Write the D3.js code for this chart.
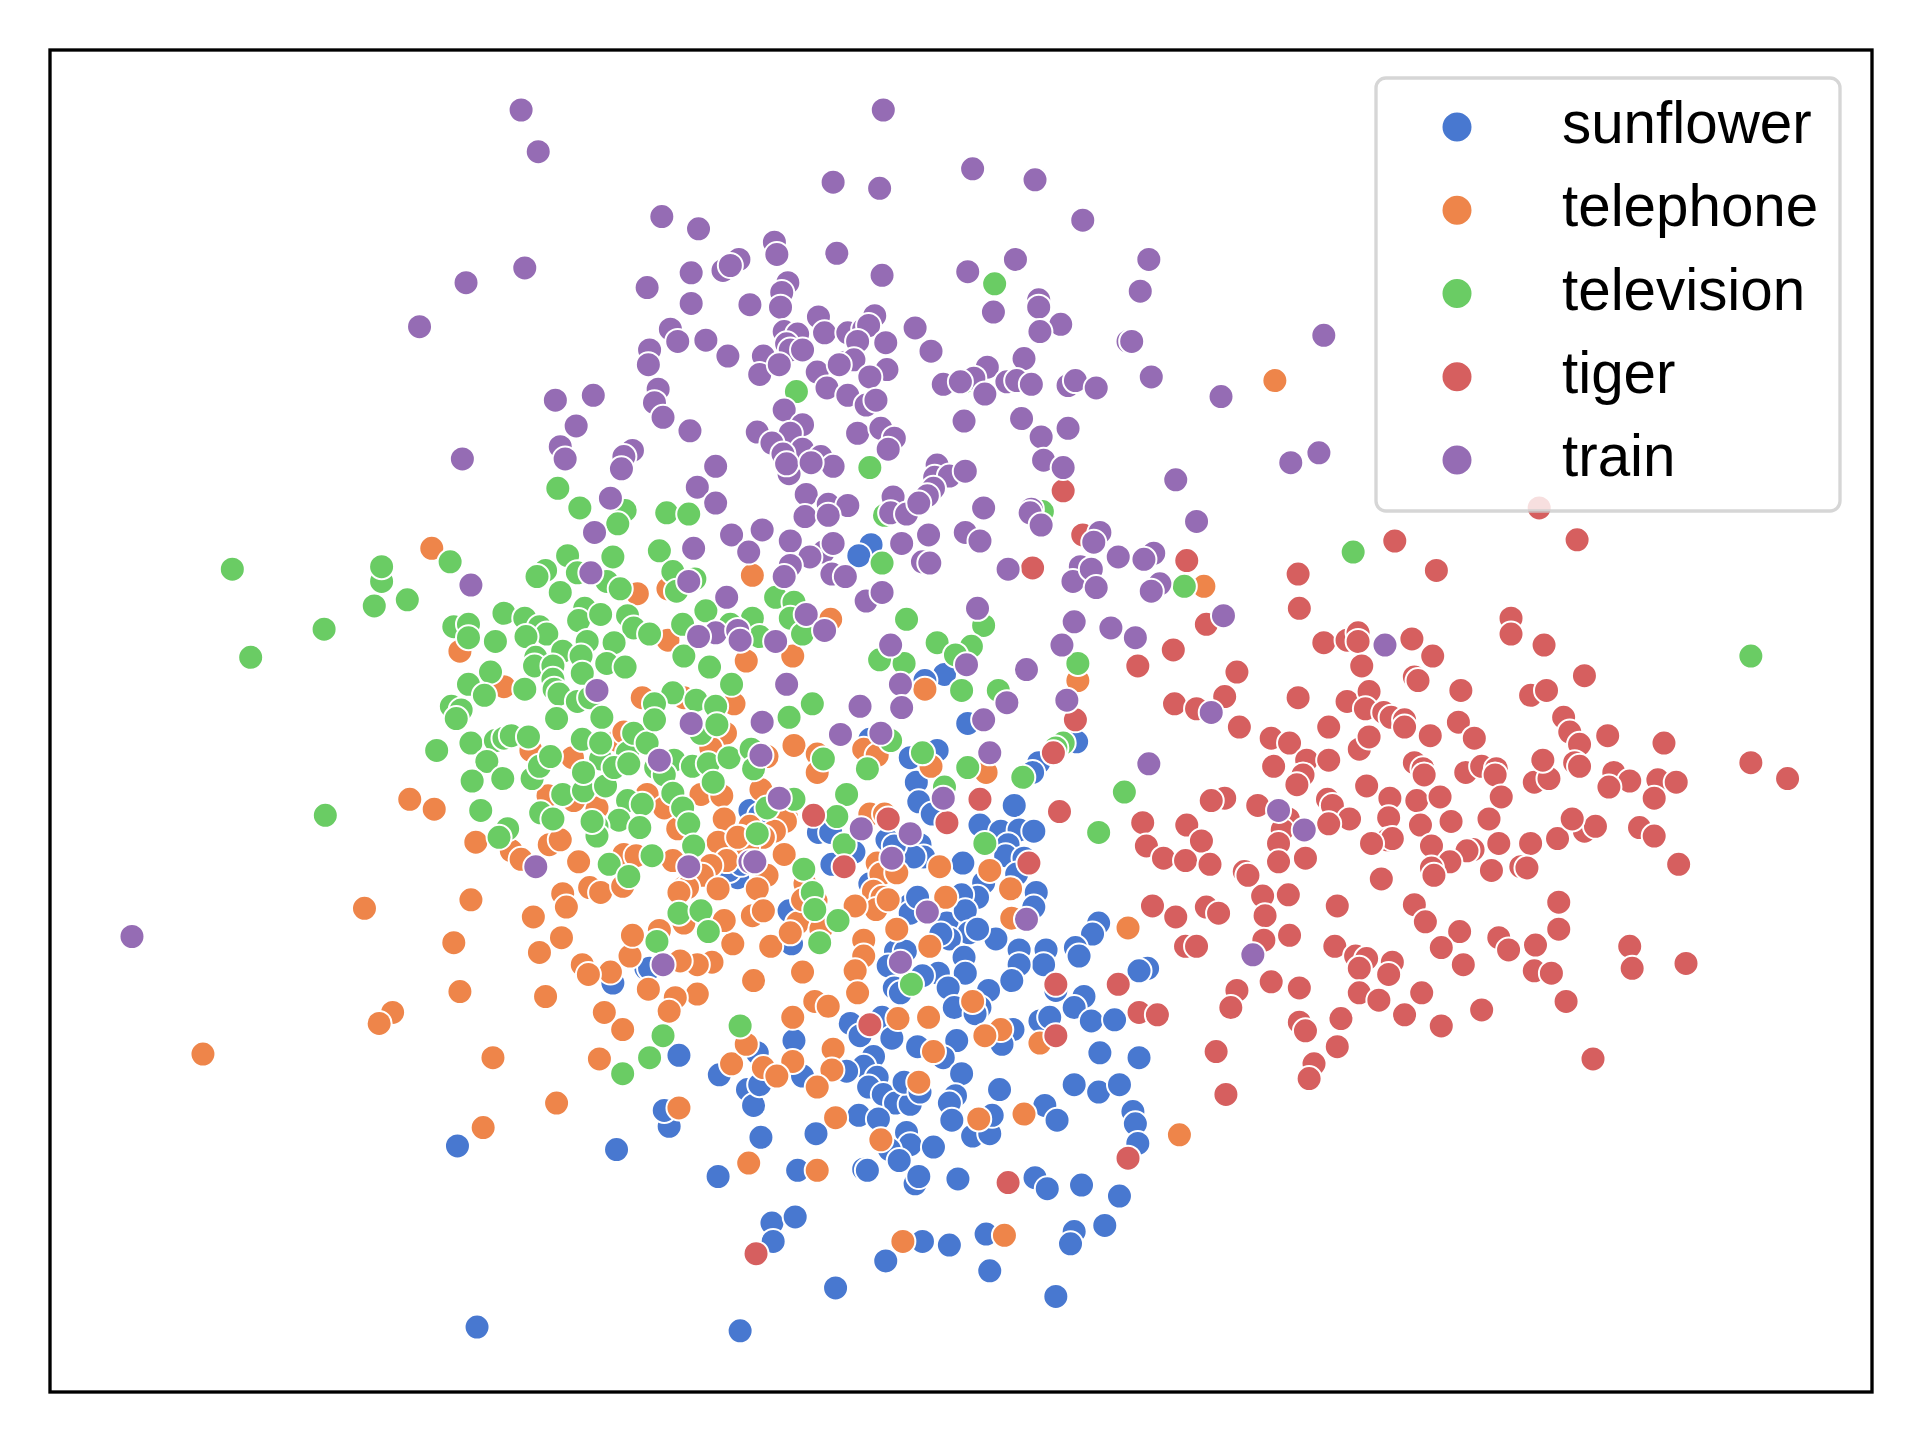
<!DOCTYPE html>
<html>
<head>
<meta charset="utf-8">
<script src="https://cdn.jsdelivr.net/npm/d3@7"></script>
<style>
  html, body { margin: 0; padding: 0; background: #fff; }
  svg { display: block; }
</style>
</head>
<body>
<div id="chart"></div>
<script>
const categories = ['sunflower', 'telephone', 'television', 'tiger', 'train'];

const sunflower = [[711,444],[701,453],[771,550],[755,555],[790,590],[879,605],[765,612],[743,618],[710,603],[848,622],[843,630],[748,638],[612,661],[620,665],[670,676],[668,679],[678,679],[750,654],[761,664],[724,685],[751,689],[754,699],[746,699],[730,690],[697,695],[679,705],[710,721],[743,738],[773,753],[644,743],[646,770],[602,716],[828,657],[800,673],[817,678],[832,677],[844,678],[823,689],[821,698],[836,700],[830,713],[803,720],[798,732],[785,730],[788,743],[786,704],[846,728],[844,740],[897,753],[892,762],[878,773],[881,780],[854,775],[852,787],[832,775],[832,787],[826,800],[813,766],[791,761],[798,758],[775,766],[768,762],[787,781],[788,794],[766,794],[774,806],[743,745],[749,732],[731,776],[739,776],[725,788],[730,806],[735,810],[753,796],[807,808],[779,822],[800,822],[796,827],[827,840],[818,852],[781,849],[770,863],[749,854],[785,876],[780,894],[775,900],[777,914],[794,927],[808,925],[810,910],[816,889],[877,885],[897,891],[914,885],[853,902],[863,914],[885,813],[877,822],[891,833],[910,832],[849,833],[857,830],[898,859],[930,863],[862,808],[937,790],[930,792],[925,907],[927,917],[929,933],[694,835],[720,830],[702,845],[728,847],[713,862],[705,870],[716,879],[709,887],[721,893],[731,900],[743,901],[738,883],[751,891],[701,910],[717,913],[740,924],[743,934],[726,938],[734,947],[762,936],[666,925],[621,928],[648,849],[691,874],[655,878],[610,889],[615,902],[587,877],[618,859],[620,885],[554,861],[651,955],[586,960],[503,938],[546,919],[542,906],[705,954],[708,955],[747,966],[750,960],[782,962],[845,961],[855,970],[883,967],[527,790],[500,802],[373,935],[914,976],[902,1000],[630,998],[649,993],[631,1013],[753,1013],[723,1029],[775,1016],[805,1007],[877,1005],[874,1015],[808,1037],[682,1051],[862,1058],[389,1083],[604,1086],[595,710],[605,705],[530,790]];

const telephone = [[1041,310],[352,447],[614,469],[983,478],[520,484],[545,480],[375,531],[411,560],[545,522],[609,539],[647,535],[678,505],[524,569],[558,569],[599,574],[592,598],[648,608],[667,615],[667,630],[705,611],[716,616],[626,617],[580,610],[334,652],[354,660],[388,687],[417,694],[425,701],[448,689],[457,685],[467,618],[433,612],[504,604],[509,597],[487,659],[447,649],[468,653],[528,648],[542,659],[572,648],[589,649],[591,668],[612,674],[604,683],[586,687],[621,644],[642,667],[641,670],[632,678],[623,683],[610,691],[602,683],[553,676],[640,697],[593,702],[580,706],[549,702],[573,714],[586,725],[558,724],[561,724],[554,728],[626,714],[618,725],[710,664],[722,664],[716,704],[719,713],[713,727],[732,712],[720,732],[715,742],[725,734],[657,721],[472,703],[459,729],[481,724],[490,728],[509,697],[519,698],[508,723],[384,734],[767,707],[808,710],[825,725],[772,732],[826,749],[732,758],[759,772],[705,767],[705,780],[698,792],[700,810],[655,793],[615,800],[629,772],[598,770],[581,785],[569,787],[555,784],[569,811],[551,814],[546,825],[529,807],[508,840],[493,826],[498,793],[514,780],[516,763],[538,759],[558,753],[591,751],[614,747],[623,743],[651,753],[645,761],[670,758],[666,735],[655,734],[698,739],[794,817],[817,840],[804,845],[758,830],[733,831],[665,817],[676,821],[647,830],[680,856],[679,873],[667,887],[647,866],[623,871],[634,878],[597,868],[609,852],[554,904],[682,912],[719,930],[750,883],[762,858],[799,913],[836,909],[849,851],[667,955],[611,949],[297,741],[370,769],[458,765],[440,777],[435,748],[462,740],[475,787],[480,795],[445,813],[375,809],[320,826],[309,835],[165,860],[402,863],[489,864],[454,900],[394,920],[963,926],[921,757],[737,1013],[820,1008],[760,625],[805,630],[880,555],[755,562]];

const television = [[812,231],[650,319],[787,311],[710,381],[455,398],[473,414],[510,416],[504,427],[544,418],[562,419],[367,458],[463,453],[500,454],[538,449],[549,466],[567,472],[552,482],[445,465],[438,470],[471,467],[495,474],[506,480],[457,483],[576,498],[557,509],[558,535],[579,544],[597,558],[411,500],[428,504],[440,511],[446,517],[370,511],[382,509],[382,520],[404,523],[429,519],[477,496],[472,506],[490,501],[512,502],[517,512],[530,517],[479,523],[501,524],[437,536],[436,543],[459,531],[474,535],[475,549],[495,541],[510,544],[451,543],[451,554],[452,562],[456,566],[471,572],[481,569],[491,585],[454,586],[400,548],[382,558],[395,567],[428,562],[368,576],[376,579],[372,586],[356,612],[332,489],[384,606],[404,604],[411,602],[417,600],[431,601],[397,621],[385,637],[410,635],[434,635],[440,625],[449,617],[392,661],[414,676],[407,683],[441,663],[451,668],[459,648],[476,645],[494,641],[475,603],[490,619],[512,614],[517,598],[528,606],[490,606],[476,630],[501,626],[513,623],[512,653],[524,656],[505,669],[487,674],[487,682],[522,675],[483,670],[550,620],[535,626],[542,632],[565,625],[578,623],[595,618],[613,611],[615,627],[582,638],[549,647],[557,659],[562,672],[566,690],[532,698],[497,705],[513,715],[549,565],[534,574],[568,571],[584,576],[534,587],[572,598],[585,591],[663,574],[644,585],[672,619],[626,659],[648,652],[618,680],[656,709],[663,728],[691,648],[683,666],[689,689],[708,627],[727,604],[720,459],[718,538],[633,487],[648,491],[645,504],[655,517],[614,504],[620,519],[596,509],[669,769],[684,751],[804,688],[897,679],[918,646],[554,745],[572,743],[536,768],[578,760],[744,803],[604,837],[541,845],[530,863],[508,876],[665,742],[722,420],[851,417],[967,478],[1105,450],[1430,535],[189,464],[204,536],[264,513],[305,494],[311,474],[311,462],[265,665],[740,505],[803,510],[765,524],[738,541],[793,527],[780,534],[785,563],[815,563],[880,541],[868,606],[862,610],[753,614],[790,626],[835,634],[771,642]];

const tiger = [[1257,414],[868,400],[1288,440],[884,436],[1139,441],[969,457],[843,463],[1173,465],[1060,468],[1061,496],[985,509],[1234,504],[1234,517],[1261,526],[958,530],[929,543],[1010,548],[1081,524],[1100,522],[1109,516],[1109,523],[1153,521],[1170,535],[1112,543],[1155,552],[1158,555],[1294,551],[1193,563],[1250,567],[1263,563],[1100,572],[1060,569],[1000,568],[959,574],[977,578],[1012,593],[1118,564],[1115,578],[1130,581],[1136,585],[1147,587],[1147,593],[1085,593],[1191,589],[1204,602],[1277,585],[1282,597],[1290,607],[1313,600],[1359,606],[1038,602],[1053,606],[1110,611],[1118,601],[1067,620],[1085,620],[1064,632],[1116,641],[1155,622],[1162,627],[1163,632],[1197,630],[1210,625],[1222,627],[1221,632],[1253,638],[1265,635],[1286,622],[1290,625],[1318,630],[1331,637],[1354,636],[1369,638],[1351,651],[1314,642],[1430,622],[1460,635],[1135,651],[1157,653],[1176,650],[1226,650],[1084,652],[1088,657],[1000,651],[989,653],[1027,657],[1059,640],[1052,668],[1102,668],[1134,667],[1160,673],[1185,670],[1216,668],[1133,685],[1137,684],[1169,690],[1120,688],[1047,677],[1044,688],[1085,672],[1203,693],[1198,694],[1224,688],[1250,688],[1272,684],[1294,678],[1303,674],[1284,668],[1339,675],[1351,682],[1371,705],[933,671],[969,673],[981,686],[936,690],[950,700],[968,702],[988,705],[1016,711],[1019,714],[1066,700],[1044,703],[1184,703],[1218,710],[1242,707],[1247,708],[1128,717],[1169,708],[1171,714],[1052,730],[1031,731],[1033,747],[941,739],[960,748],[985,740],[995,745],[1092,739],[1155,738],[1164,752],[1192,760],[1273,736],[1273,758],[1053,763],[1032,767],[968,772],[977,772],[1090,772],[1177,773],[1224,765],[1232,775],[1254,771],[1331,772],[1333,790],[1377,786],[1107,780],[1116,782],[1137,785],[1110,790],[1134,795],[1195,787],[1253,792],[1267,794],[1038,801],[1061,806],[1010,808],[1005,822],[1110,810],[1126,816],[1161,810],[1147,828],[1177,837],[1210,824],[1279,817],[1095,831],[1061,834],[1066,841],[1092,854],[993,858],[1073,868],[1069,880],[1001,893],[1301,864],[913,803],[862,803],[930,826],[945,828],[862,845],[710,836],[921,945],[823,965],[617,1023],[664,665],[725,668],[773,671],[800,652],[865,662],[860,614],[878,587],[689,707],[840,704],[1168,600],[1040,625],[1260,620]];

const train = [[425,89],[721,89],[439,123],[794,137],[680,148],[845,146],[718,153],[540,176],[570,186],[884,179],[632,197],[603,211],[683,206],[634,207],[938,211],[829,211],[428,218],[380,230],[564,222],[590,220],[596,216],[720,224],[790,221],[528,234],[643,230],[638,238],[931,237],[848,244],[564,247],[612,248],[637,250],[811,254],[848,250],[342,266],[668,258],[714,257],[866,264],[849,270],[747,267],[547,268],[553,278],[576,277],[640,270],[651,272],[673,271],[692,271],[705,268],[709,265],[700,278],[723,279],[642,280],[645,285],[760,286],[530,285],[529,297],[594,290],[623,290],[655,285],[690,295],[697,293],[724,301],[921,278],[924,278],[1081,273],[836,292],[620,305],[636,297],[667,303],[685,297],[710,307],[940,307],[806,299],[795,308],[770,313],[784,311],[822,311],[830,310],[842,313],[872,314],[878,310],[895,316],[675,316],[692,322],[707,330],[715,326],[804,321],[537,317],[534,328],[453,326],[484,322],[541,340],[997,323],[640,334],[655,346],[645,353],[618,352],[563,351],[470,347],[700,353],[719,349],[730,357],[787,343],[834,341],[850,356],[872,349],[630,361],[655,366],[639,370],[457,364],[461,374],[516,367],[509,372],[507,382],[377,374],[725,366],[670,372],[680,380],[644,386],[642,378],[662,377],[584,380],[569,397],[765,379],[763,389],[775,388],[788,384],[852,375],[868,381],[960,391],[1054,377],[1077,369],[658,403],[729,405],[727,418],[498,406],[584,410],[676,411],[692,412],[657,421],[676,420],[740,419],[762,398],[757,404],[750,410],[803,414],[842,415],[841,418],[850,428],[977,425],[597,436],[622,432],[645,441],[485,434],[566,447],[611,450],[672,450],[680,443],[736,443],[758,436],[788,434],[800,441],[898,434],[893,442],[913,454],[942,451],[934,456],[661,454],[645,461],[640,470],[679,468],[690,470],[753,458],[759,459],[823,464],[882,462],[876,474],[891,464],[895,479],[947,476],[940,482],[384,477],[482,467],[562,474],[593,487],[707,490],[720,483],[798,496],[658,501],[999,502],[877,507],[907,512],[927,520],[584,516],[570,519],[602,514],[604,522],[633,523],[673,514],[727,526],[867,526],[1131,526],[789,542],[838,546],[642,558],[735,558],[487,563],[736,577],[822,573],[871,571],[702,576],[622,589],[564,590],[719,598],[686,599],[989,581],[803,587],[808,614],[621,616],[538,620],[938,623],[770,651],[636,651],[1044,661],[1065,677],[703,676],[743,680],[728,700],[612,703],[616,703],[562,707],[437,707],[838,750],[757,744],[735,785],[541,787],[107,764],[1023,779]];

const seriesValues = [sunflower, telephone, television, tiger, train];
const palette = ['#4878d0', '#ee854a', '#6acc64', '#d65f5f', '#956cb4'];

const width = 1920;
const height = 1440;
const margin = { top: 50, right: 48, bottom: 48, left: 50 };

const svg = d3.select('#chart')
    .append('svg')
    .attr('width', width)
    .attr('height', height)
    .attr('viewBox', `0 0 ${width} ${height}`)
    .style('font-family', '"Liberation Sans", Arial, sans-serif');

// Values are embedding coordinates, there are no ticks
const x = d3.scaleLinear()
    .domain([40, 1529])
    .range([margin.left, width - margin.right]);

const y = d3.scaleLinear()
    .domain([40, 1136])
    .range([margin.top, height - margin.bottom]);

const color = d3.scaleOrdinal().domain(categories).range(palette);

const points = svg.append('g');
categories.forEach((name, i) => {
    points.selectAll(`.dot-${name}`)
        .data(seriesValues[i])
        .enter()
        .append('circle')
        .attr('class', `dot-${name}`)
        .attr('cx', d => x(d[0]))
        .attr('cy', d => y(d[1]))
        .attr('r', 12.5)
        .attr('fill', color(name))
        .attr('stroke', '#fff')
        .attr('stroke-width', 2);
});

// Frame
svg.append('rect')
    .attr('x', margin.left)
    .attr('y', margin.top)
    .attr('width', width - margin.left - margin.right)
    .attr('height', height - margin.top - margin.bottom)
    .attr('fill', 'none')
    .attr('stroke', '#000')
    .attr('stroke-width', 3.33);

// Legend
const legend = svg.append('g');
legend.append('rect')
    .attr('x', 1376)
    .attr('y', 78)
    .attr('width', 464)
    .attr('height', 433)
    .attr('rx', 10)
    .attr('fill', '#fff')
    .attr('fill-opacity', 0.8)
    .attr('stroke', '#ccc')
    .attr('stroke-opacity', 0.8)
    .attr('stroke-width', 3.33);

const legendY = d3.scalePoint()
    .domain(categories)
    .range([127, 460]);

legend.selectAll('circle')
    .data(categories)
    .enter()
    .append('circle')
    .attr('cx', 1457)
    .attr('cy', d => legendY(d))
    .attr('r', 15.5)
    .attr('fill', d => color(d))
    .attr('stroke', '#fff')
    .attr('stroke-width', 2);

legend.selectAll('text')
    .data(categories)
    .enter()
    .append('text')
    .attr('x', 1562)
    .attr('y', d => legendY(d) + 16)
    .attr('font-size', '58.33px')
    .attr('fill', '#000')
    .text(d => d);
</script>
</body>
</html>
